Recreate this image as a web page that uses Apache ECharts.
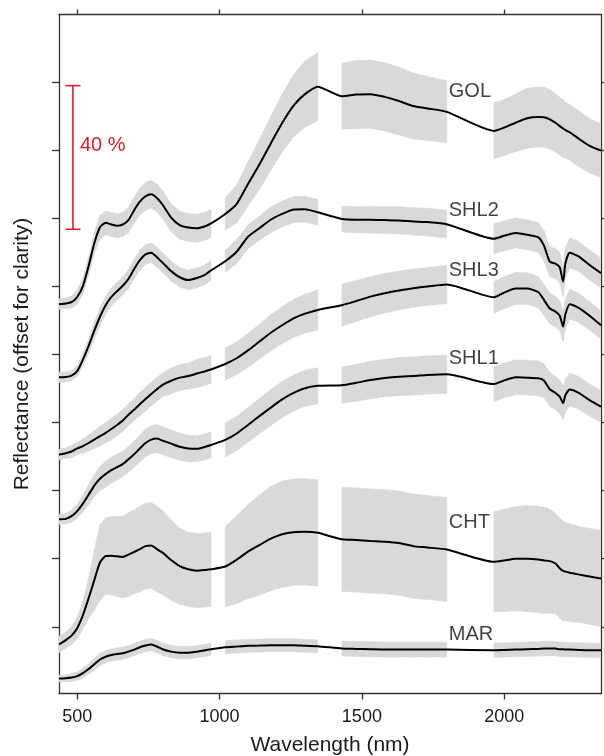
<!DOCTYPE html>
<html>
<head>
<meta charset="utf-8">
<script src="https://cdn.jsdelivr.net/npm/echarts@6/dist/echarts.min.js"></script>
<style>
html,body{margin:0;padding:0;background:#fff;}
#chart{width:604px;height:756px;}
</style>
</head>
<body>
<div id="chart"></div>
<script>
// 波长 (nm), null = 吸收带缺口
var wl = [436,460,480,500,520,540,560,580,600,620,640,660,680,700,720,740,760,780,800,
	830,860,890,920,950,970,995,1020,1060,1100,1140,1180,1220,1260,1300,1345,1388,
	1430,1480,1530,1580,1630,1680,1730,1798,1880,
	1964,2000,2040,2080,2120,2140,2160,2180,2195,2207,2215,2230,2260,2300,2340];

// 平均反射率 (已偏移) 和 标准差
var golMean = [94.8,95.0,95.4,96.9,100.1,106.0,112.7,117.4,118.7,118.2,117.8,118.2,119.5,122.4,124.9,126.5,127.1,126.0,124.0,
	120.2,118.0,117.3,117.1,117.7,118.5,null,121.3,124.2,130.1,135.8,142.0,148.0,153.1,156.5,158.7,null,
	155.9,156.4,156.5,155.7,154.5,153.0,152.3,151.3,null,
	145.7,146.7,148.1,149.4,149.8,149.7,149.1,148.1,147.1,146.4,145.9,145.3,143.5,141.3,139.9];
var golSd = [1.5,1.5,1.8,2.1,2.4,2.6,3.2,3.5,3.5,3.5,3.5,3.5,3.7,3.8,4.0,4.1,4.1,4.1,4.1,
	4.1,4.1,4.1,4.1,4.1,4.1,null,4.7,5.6,6.5,7.3,7.9,8.5,9.1,9.7,10.0,null,
	9.7,10.0,10.0,10.0,10.0,9.7,9.4,9.1,null,
	8.2,8.2,8.5,8.8,8.8,8.8,8.8,8.5,8.5,8.5,8.2,8.2,8.2,8.0,7.9];

var shl2Mean = [73.3,73.4,73.8,75.1,78.5,82.5,87.0,91.1,94.5,96.9,98.6,100.2,102.2,105.1,107.7,109.4,109.9,108.6,107.0,
	104.5,102.7,101.9,102.5,103.5,104.7,null,107.4,110.2,114.6,117.1,119.6,121.3,122.6,122.7,121.8,null,
	119.8,119.6,119.6,119.5,119.4,119.1,118.9,118.3,null,
	114.0,114.9,115.7,115.2,114.4,111.9,107.3,106.7,105.6,101.4,106.8,109.9,108.9,106.3,103.9];
var shl2Sd = [1.5,1.5,1.5,1.5,1.8,2.1,2.4,2.6,2.6,2.6,2.6,2.6,2.8,2.9,2.9,2.9,2.9,2.9,2.9,
	2.9,2.9,2.9,2.9,2.9,2.9,null,3.2,3.5,3.5,3.5,3.8,3.8,3.8,3.8,3.8,null,
	3.8,3.8,3.9,3.9,4.0,4.0,4.1,4.1,null,
	4.4,4.4,4.4,4.4,4.4,4.4,4.4,4.4,4.4,4.4,4.4,4.4,4.4,4.4,4.4];

var shl3Mean = [50.6,51.0,51.5,52.4,53.1,54.0,55.0,56.0,57.0,58.1,59.3,60.6,62.3,63.8,65.4,66.9,68.4,69.8,71.1,
	72.3,73.2,73.7,74.4,75.1,75.6,null,77.2,78.9,81.2,83.8,86.4,88.6,90.6,92.0,93.1,null,
	94.5,95.7,97.0,98.0,98.8,99.5,100.0,100.6,null,
	96.8,98.2,99.4,99.4,98.3,96.0,93.5,92.6,91.4,88.2,91.9,94.8,93.8,91.4,88.6];
var shl3Sd = [1.5,1.5,1.8,1.8,2.1,2.4,2.6,2.9,2.9,3.2,3.2,3.2,3.2,3.2,3.5,3.5,3.5,3.5,3.5,
	3.8,3.8,3.8,4.1,4.1,4.1,null,4.7,4.8,5.0,5.1,5.3,5.4,5.6,5.7,5.9,null,
	6.2,6.0,5.9,5.8,5.7,5.6,5.6,5.6,null,
	4.7,4.7,4.7,4.6,4.6,4.5,4.5,4.5,4.4,4.4,4.4,4.3,4.3,4.2,4.1];

var shl1Mean = [31.6,31.7,32.5,34.0,36.2,38.8,41.5,43.5,44.9,46.0,46.9,47.8,49.2,50.7,52.4,54.0,55.0,55.3,54.7,
	53.8,52.9,52.4,52.3,52.9,53.4,null,54.9,56.8,59.3,61.9,64.4,66.8,68.7,70.1,70.8,null,
	71.0,71.7,72.5,73.1,73.5,73.7,74.0,74.2,null,
	71.3,72.4,73.3,73.2,73.0,72.3,69.8,68.7,67.6,65.7,68.1,69.7,68.8,66.6,64.7];
var shl1Sd = [1.5,1.5,1.8,2.1,2.4,2.9,3.2,3.5,3.8,3.8,3.8,3.8,3.8,3.8,4.0,4.1,4.1,4.1,4.1,
	4.1,4.0,3.9,3.8,3.8,3.8,null,5.0,5.0,5.1,5.2,5.3,5.3,5.3,5.3,5.3,null,
	5.3,5.4,5.5,5.5,5.6,5.6,5.6,5.6,null,
	5.1,5.1,5.1,5.1,5.1,5.0,5.0,4.9,4.9,4.9,4.8,4.8,4.8,4.7,4.7];

var chtMean = [-5.2,-3.9,-2.6,-0.4,3.4,8.4,13.7,18.9,20.8,20.9,20.7,20.5,21.2,22.0,22.8,23.7,23.9,22.8,21.8,
	19.6,17.8,16.9,16.5,16.7,16.9,null,17.7,19.7,22.1,24.0,25.9,27.2,27.8,27.9,27.6,null,
	25.7,25.5,25.2,25.0,24.6,23.7,23.3,22.7,null,
	19.1,19.5,20.0,20.0,19.8,19.5,19.3,18.6,17.2,16.4,16.2,15.9,15.4,14.8,14.2];
var chtSd = [2.4,2.4,2.6,3.2,4.1,5.9,8.8,11.2,11.2,11.5,11.8,12.0,12.3,12.3,12.6,12.6,12.6,12.6,12.3,
	11.8,11.2,10.9,10.9,10.9,10.9,null,11.8,12.9,13.8,14.7,15.3,15.6,15.6,15.6,15.6,null,
	15.3,15.3,15.3,15.3,15.3,15.3,15.3,15.3,null,
	14.7,15.0,15.3,15.6,15.6,15.6,15.3,14.7,14.7,14.7,14.4,14.4,14.1,14.1,14.1];

var marMean = [-15.2,-15.1,-14.9,-14.5,-13.6,-12.4,-11.0,-9.6,-8.8,-8.3,-8.0,-7.8,-7.3,-6.7,-6.0,-5.5,-5.2,-5.8,-6.6,
	-7.3,-7.6,-7.6,-7.3,-6.9,-6.6,null,-6.0,-5.8,-5.6,-5.5,-5.4,-5.4,-5.4,-5.6,-5.7,null,
	-6.4,-6.5,-6.6,-6.7,-6.7,-6.7,-6.7,-6.7,null,
	-6.9,-6.8,-6.7,-6.6,-6.5,-6.4,-6.4,-6.4,-6.6,-6.6,-6.7,-6.7,-6.8,-6.9,-6.9];
var marSd = [1.0,1.0,1.2,1.2,1.5,1.5,1.8,1.8,1.8,1.8,1.8,1.8,1.8,1.8,1.8,1.8,1.8,1.8,1.8,
	1.8,1.8,1.8,1.8,1.8,1.8,null,1.9,1.9,1.9,1.9,1.9,1.9,1.9,1.9,1.9,null,
	2.2,2.2,2.2,2.2,2.2,2.2,2.2,2.2,null,
	2.1,2.1,2.1,2.1,2.1,2.1,2.1,2.1,2.1,2.1,2.1,2.1,2.1,2.1,2.1];

// 名称和标签位置
var names = ['GOL','SHL2','SHL3','SHL1','CHT','MAR'];
var labelWl = 1800;
var labelY = [157.2,122.4,104.7,78.8,30.6,-2.4];

// 坐标轴刻度
var xTicks = [500,1000,1500,2000];
var yTicks = [0,20,40,60,80,100,120,140,160];

// 比例尺: 波长, 下端, 上端
var scaleBar = [485,116.8,159.0];
var scaleTextY = 141.5;
var scaleText = '40 %';

var means = [golMean,shl2Mean,shl3Mean,shl1Mean,chtMean,marMean];
var sds = [golSd,shl2Sd,shl3Sd,shl1Sd,chtSd,marSd];

var font = "'Liberation Sans', Arial, sans-serif";
var axisColor = '#333';
var red = '#dc2028';
var bandColor = '#d9d9d9';

// 灰带: 相邻两点组成一个四边形
function renderBand(params, api) {
	var a0 = api.coord([api.value(0), api.value(1)]);
	var a1 = api.coord([api.value(0), api.value(2)]);
	var b0 = api.coord([api.value(3), api.value(4)]);
	var b1 = api.coord([api.value(3), api.value(5)]);
	return {
		type: 'polygon',
		shape: {points: [a0, b0, b1, a1]},
		style: {fill: bandColor, stroke: bandColor, lineWidth: 0.6}
	};
}

var series = [];
for (var i = 0; i < names.length; i++) {
	var quads = [], line = [];
	for (var j = 0; j < wl.length; j++) {
		var m = means[i][j], s = sds[i][j];
		if (m == null) continue;
		line.push([wl[j], m]);
		var m2 = means[i][j + 1], s2 = sds[i][j + 1];
		if (j + 1 < wl.length && m2 != null) {
			quads.push([wl[j], m - s, m + s, wl[j + 1], m2 - s2, m2 + s2]);
		}
	}
	series.push({
		name: names[i] + '_band', type: 'custom', renderItem: renderBand,
		data: quads, silent: true, z: 1, clip: true,
		encode: {x: [0, 3], y: [1, 2, 4, 5]}
	});
	series.push({
		name: names[i], type: 'line', data: line, symbol: 'none', smooth: 0.2, z: 3,
		lineStyle: {color: '#000', width: 2}
	});
}

// 曲线名称
series.push({
	type: 'scatter', silent: true, z: 4, symbolSize: 1,
	itemStyle: {color: 'rgba(0,0,0,0)'},
	data: names.map(function (n, k) { return {name: n, value: [labelWl, labelY[k]]}; }),
	label: {
		show: true, position: 'right', distance: 1, formatter: '{b}',
		fontSize: 20, color: '#111', fontFamily: font
	}
});

// 40 % 比例尺
series.push({
	type: 'custom', silent: true, z: 5,
	data: [scaleBar],
	renderItem: function (params, api) {
		var top = api.coord([api.value(0), api.value(2)]);
		var bot = api.coord([api.value(0), api.value(1)]);
		var txt = api.coord([api.value(0), scaleTextY]);
		var ls = {stroke: red, lineWidth: 1.6};
		return {
			type: 'group',
			children: [
				{type: 'line', shape: {x1: top[0], y1: top[1], x2: bot[0], y2: bot[1]}, style: ls},
				{type: 'line', shape: {x1: top[0] - 7.5, y1: top[1], x2: top[0] + 7.5, y2: top[1]}, style: ls},
				{type: 'line', shape: {x1: bot[0] - 7.5, y1: bot[1], x2: bot[0] + 7.5, y2: bot[1]}, style: ls},
				{type: 'text', x: txt[0] + 7, y: txt[1], style: {
					text: scaleText, fill: red, fontSize: 20, fontFamily: font,
					align: 'left', verticalAlign: 'middle'
				}}
			]
		};
	}
});

var chart = echarts.init(document.getElementById('chart'));
var option = {
	animation: false,
	backgroundColor: '#fff',
	grid: {left: 59, right: 3, top: 14.5, bottom: 62.5, containLabel: false, outerBoundsMode: 'none'},
	xAxis: [{
		type: 'value', position: 'bottom', min: 436, max: 2340,
		axisLine: {show: true, onZero: false, lineStyle: {color: axisColor, width: 1.3}},
		axisTick: {show: true, customValues: xTicks, length: 6, lineStyle: {color: axisColor, width: 1.3}},
		axisLabel: {customValues: xTicks, fontSize: 18, color: '#1a1a1a', margin: 15, fontFamily: font,
			formatter: function (v) { return String(v); }},
		splitLine: {show: false},
		name: 'Wavelength (nm)', nameLocation: 'middle', nameGap: 41,
		nameTextStyle: {fontSize: 21, color: '#1a1a1a', fontFamily: font}
	}, {
		type: 'value', position: 'top', min: 436, max: 2340,
		axisLine: {show: true, onZero: false, lineStyle: {color: axisColor, width: 1.3}},
		axisTick: {show: true, customValues: xTicks, length: 5, lineStyle: {color: axisColor, width: 1.3}},
		axisLabel: {show: false},
		splitLine: {show: false}
	}],
	yAxis: [{
		type: 'value', position: 'left', min: -19.6, max: 179.9,
		axisLine: {show: true, onZero: false, lineStyle: {color: axisColor, width: 1.3}},
		axisTick: {show: true, customValues: yTicks, length: 7, lineStyle: {color: axisColor, width: 1.3}},
		axisLabel: {show: false},
		splitLine: {show: false},
		name: 'Reflectance (offset for clarity)', nameLocation: 'middle', nameGap: 26, nameRotate: 90,
		nameTextStyle: {fontSize: 21, color: '#1a1a1a', fontFamily: font}
	}, {
		type: 'value', position: 'right', min: -19.6, max: 179.9,
		axisLine: {show: true, onZero: false, lineStyle: {color: axisColor, width: 1.3}},
		axisTick: {show: true, customValues: yTicks, length: 7, lineStyle: {color: axisColor, width: 1.3}},
		axisLabel: {show: false},
		splitLine: {show: false}
	}],
	series: series
};
chart.setOption(option);
</script>
</body>
</html>
